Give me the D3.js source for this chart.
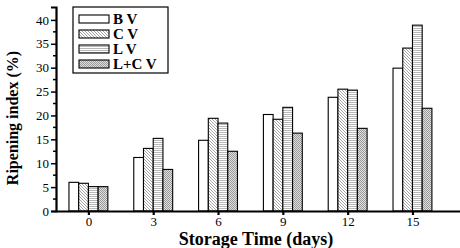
<!DOCTYPE html>
<html>
<head>
<meta charset="utf-8">
<script src="https://cdn.jsdelivr.net/npm/d3@7"></script>
<style>
  body { margin: 0; background: #fff; }
  text { font-family: "Liberation Serif", "Times New Roman", serif; }
</style>
</head>
<body>
<div id="chart"></div>
<script>
var days = [0, 3, 6, 9, 12, 15]
var seriesNames = ["B V", "C V", "L V", "L+C V"]
var bV = [6.0, 11.2, 14.8, 20.2, 23.8, 29.9]
var cV = [5.8, 13.1, 19.4, 19.2, 25.5, 34.1]
var lV = [5.1, 15.2, 18.4, 21.7, 25.3, 38.9]
var lcV = [5.1, 8.7, 12.5, 16.3, 17.3, 21.5]
var yTicks = [0, 5, 10, 15, 20, 25, 30, 35, 40]

var allSeries = [bV, cV, lV, lcV]
var fills = ["#fff", "url(#diag)", "url(#horiz)", "url(#check)"]

var width = 460, height = 248

var svg = d3.select("#chart")
    .append("svg")
    .attr("width", width)
    .attr("height", height)

// patterns for the bars
var defs = svg.append("defs")
var diag = defs.append("pattern").attr("id", "diag")
    .attr("patternUnits", "userSpaceOnUse").attr("width", 3).attr("height", 3)
diag.append("rect").attr("width", 3).attr("height", 3).attr("fill", "#fff")
diag.append("path").attr("d", "M0,0 L3,3 M-1,2 L1,4 M2,-1 L4,1")
    .attr("stroke", "#9a9a9a").attr("stroke-width", 0.9)

var horiz = defs.append("pattern").attr("id", "horiz")
    .attr("patternUnits", "userSpaceOnUse").attr("width", 4).attr("height", 2)
horiz.append("rect").attr("width", 4).attr("height", 2).attr("fill", "#fff")
horiz.append("rect").attr("width", 4).attr("height", 1).attr("fill", "#b8b8b8")

var check = defs.append("pattern").attr("id", "check")
    .attr("patternUnits", "userSpaceOnUse").attr("width", 2).attr("height", 2)
check.append("rect").attr("width", 2).attr("height", 2).attr("fill", "#e0e0e0")
check.append("rect").attr("width", 1).attr("height", 1).attr("fill", "#999")
check.append("rect").attr("x", 1).attr("y", 1).attr("width", 1).attr("height", 1).attr("fill", "#999")

// scales
var x = d3.scaleLinear().domain([-1.5, 17.2]).range([56, 460])
var y = d3.scaleLinear().domain([0, 42.7]).range([211, 7])

var barW = 0.45

// bars
allSeries.forEach(function (vals, i) {
    svg.append("g").selectAll("rect")
        .data(vals)
        .join("rect")
        .attr("x", (d, j) => x(days[j] + (i - 2) * barW))
        .attr("y", d => y(d))
        .attr("width", x(barW) - x(0))
        .attr("height", d => y(0) - y(d))
        .attr("fill", fills[i])
        .attr("stroke", "#000")
        .attr("stroke-width", 1.1)
})

// Y axis
var yAxis = svg.append("g")
    .attr("transform", "translate(56,0)")
    .call(d3.axisLeft(y).tickValues(yTicks).tickSize(5).tickPadding(2))
yAxis.select(".domain").attr("stroke-width", 2.2)
yAxis.selectAll(".tick line").attr("stroke-width", 1.5)
yAxis.selectAll("text").style("font-size", "13px").attr("fill", "#000")
// minor ticks
yAxis.append("g").selectAll("line")
    .data(d3.range(2.5, 42.5, 5))
    .join("line")
    .attr("x1", 0).attr("x2", -3)
    .attr("y1", d => y(d)).attr("y2", d => y(d))
    .attr("stroke", "#000").attr("stroke-width", 1.5)

// X axis
var xAxis = svg.append("g")
    .attr("transform", "translate(0,211)")
    .call(d3.axisBottom(x).tickValues(days).tickSize(4).tickPadding(2).tickSizeOuter(0))
xAxis.select(".domain").attr("stroke-width", 2.2)
xAxis.selectAll(".tick line").attr("stroke-width", 2.2)
xAxis.selectAll("text").style("font-size", "13px").attr("fill", "#000")

// axis titles
svg.append("text")
    .attr("x", 256)
    .attr("y", 245)
    .attr("text-anchor", "middle")
    .style("font-size", "18px")
    .style("font-weight", "bold")
    .text("Storage Time (days)")

svg.append("text")
    .attr("transform", "translate(18,118) rotate(-90)")
    .attr("text-anchor", "middle")
    .style("font-size", "16px")
    .style("font-weight", "bold")
    .text("Ripening index (%)")

// legend
var legend = svg.append("g")
legend.append("rect")
    .attr("x", 73).attr("y", 7).attr("width", 95).attr("height", 66)
    .attr("fill", "#fff").attr("stroke", "#000").attr("stroke-width", 1.2)

seriesNames.forEach(function (name, i) {
    var cy = 19 + i * 15
    legend.append("rect")
        .attr("x", 79).attr("y", cy - 4).attr("width", 30).attr("height", 8)
        .attr("fill", fills[i]).attr("stroke", "#000").attr("stroke-width", 1.1)
    legend.append("text")
        .attr("x", 113).attr("y", cy + 5)
        .style("font-size", "15px")
        .style("font-weight", "bold")
        .text(name)
})
</script>
</body>
</html>
